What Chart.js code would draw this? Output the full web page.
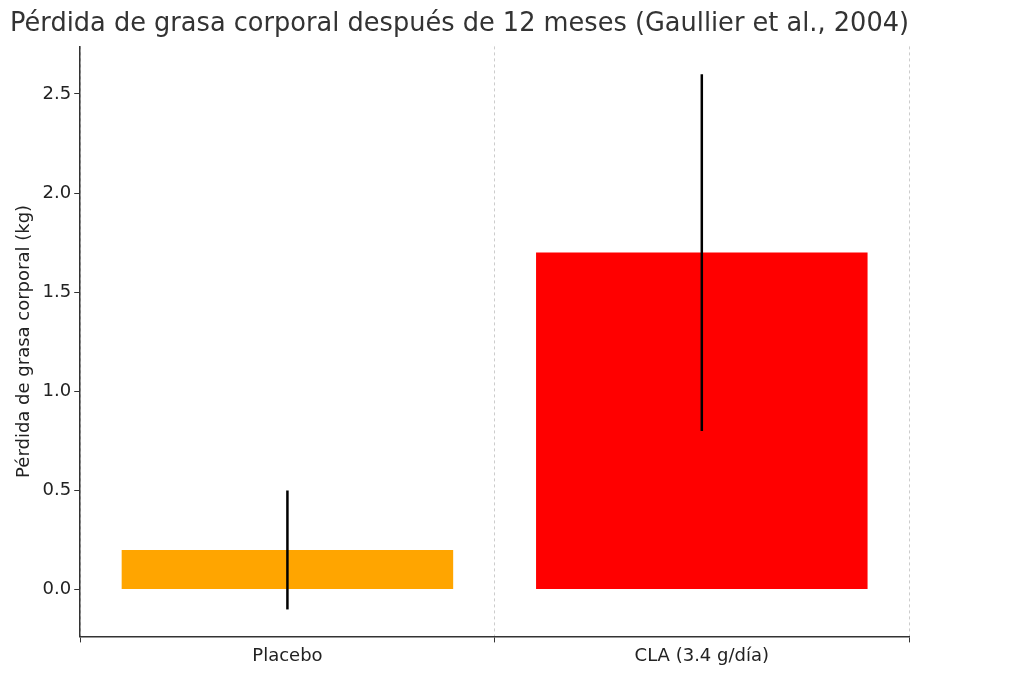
<!DOCTYPE html>
<html><head><meta charset="utf-8">
<script src="https://cdn.jsdelivr.net/npm/chart.js@4"></script>
<style>html,body{margin:0;background:#fff}#w{width:1024px;height:678px}</style>
</head><body><div id="w"><canvas id="c"></canvas></div>
<script>
const categories = ["Placebo", "CLA (3.4 g/día)"];
const values = [0.2, 1.7];
const errors = [0.3, 0.9];
const colors = ["#FFA500", "#FF0000"];
const errPlugin = {
  id: "err",
  afterDatasetsDraw(chart) {
    const ctx = chart.ctx, y = chart.scales.y, x = chart.scales.x;
    ctx.save(); ctx.strokeStyle = "#000"; ctx.lineWidth = 2.5;
    values.forEach((v, i) => {
      const px = x.getPixelForValue(i);
      ctx.beginPath();
      ctx.moveTo(px, y.getPixelForValue(v - errors[i]));
      ctx.lineTo(px, y.getPixelForValue(v + errors[i]));
      ctx.stroke();
    });
    ctx.restore();
  }
};
new Chart(document.getElementById("c"), {
  type: "bar",
  data: { labels: categories, datasets: [{ data: values, backgroundColor: colors, barPercentage: 0.8, categoryPercentage: 1 }] },
  options: {
    responsive: true, maintainAspectRatio: false, animation: false,
    layout: { padding: { left: 10, right: 115, top: 0, bottom: 8 } },
    plugins: {
      legend: { display: false }, tooltip: { enabled: false },
      title: { display: true, text: "Pérdida de grasa corporal después de 12 meses (Gaullier et al., 2004)", color: "#333", font: { size: 27, family: "DejaVu Sans", weight: "normal" }, padding: { top: 8, bottom: 6 } }
    },
    scales: {
      x: {
        grid: { color: "#ccc", borderDash: [3, 3], tickColor: "#333", tickLength: 6 },
        border: { color: "#333", width: 1.5, dash: [3,3] },
        ticks: { color: "#222", font: { size: 18, family: "DejaVu Sans" } }
      },
      y: {
        min: -0.236, max: 2.74,
        afterBuildTicks(s) { s.ticks = [0, 0.5, 1, 1.5, 2, 2.5].map(v => ({ value: v })); },
        grid: { drawOnChartArea: false, tickColor: "#333", tickLength: 6 },
        border: { color: "#333", width: 1.5 },
        ticks: { color: "#222", font: { size: 18, family: "DejaVu Sans" }, callback: v => v.toFixed(1) },
        title: { display: true, text: "Pérdida de grasa corporal (kg)", color: "#222", font: { size: 18, family: "DejaVu Sans" } }
      }
    }
  },
  plugins: [errPlugin]
});
</script></body></html>
